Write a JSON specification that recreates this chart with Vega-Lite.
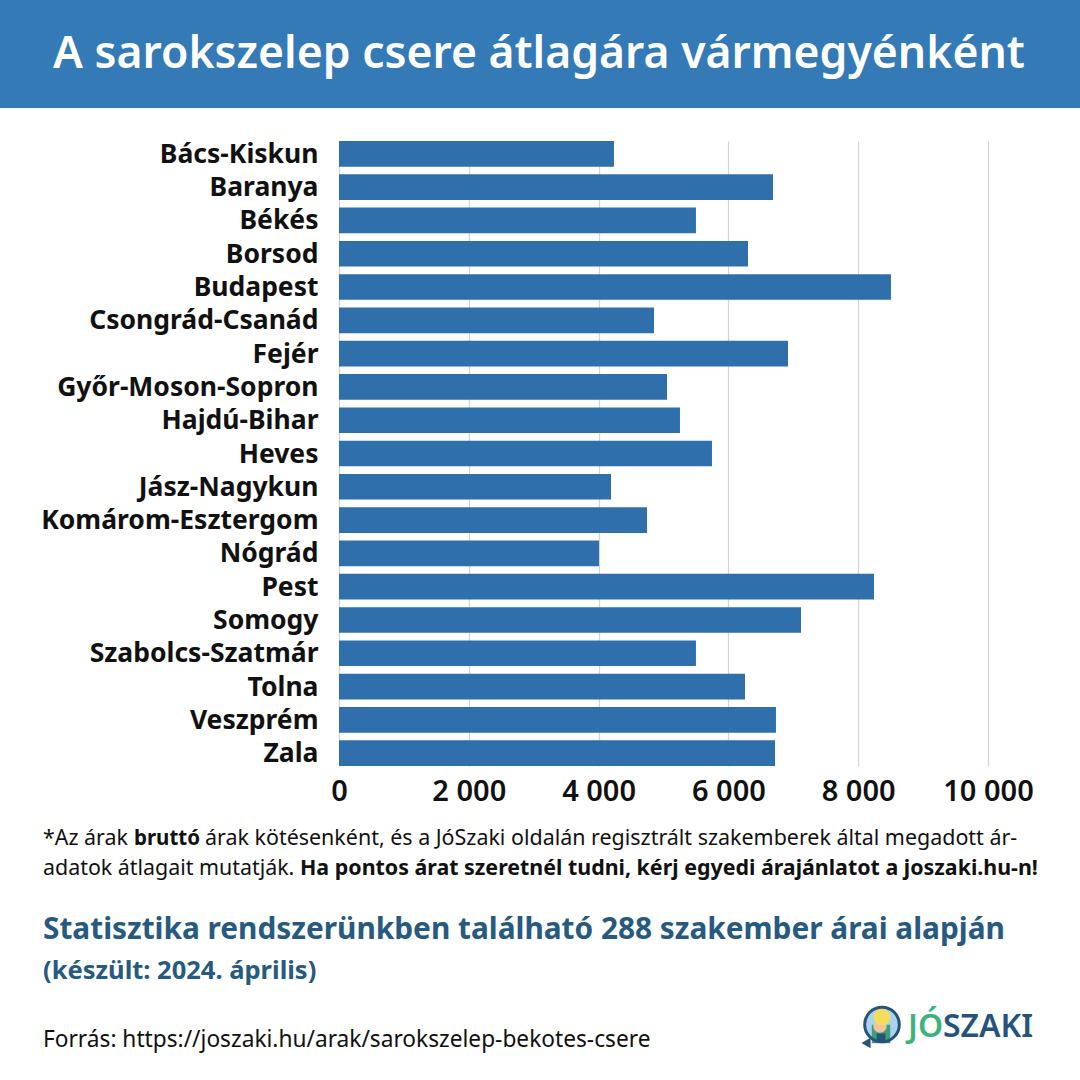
{
"$schema":"https://vega.github.io/schema/vega-lite/v6.json",
"width":649,"height":625,"autosize":"none",
"padding":{"left":339,"top":141,"right":92,"bottom":314},
"background":"#ffffff",
"config":{"view":{"stroke":null},"text":{"font":"Noto Sans","align":"left","baseline":"middle","color":"#111111"}},
"resolve":{"scale":{"x":"independent","y":"independent"}},
"layer":[
{"data":{"values":[
{"megye":"Bács-Kiskun","ar":4237},{"megye":"Baranya","ar":6687},{"megye":"Békés","ar":5500},{"megye":"Borsod","ar":6302},{"megye":"Budapest","ar":8505},{"megye":"Csongrád-Csanád","ar":4854},{"megye":"Fejér","ar":6918},{"megye":"Győr-Moson-Sopron","ar":5054},{"megye":"Hajdú-Bihar","ar":5254},{"megye":"Heves","ar":5747},{"megye":"Jász-Nagykun","ar":4191},{"megye":"Komárom-Esztergom","ar":4746},{"megye":"Nógrád","ar":4006},{"megye":"Pest","ar":8243},{"megye":"Somogy","ar":7119},{"megye":"Szabolcs-Szatmár","ar":5500},{"megye":"Tolna","ar":6256},{"megye":"Veszprém","ar":6733},{"megye":"Zala","ar":6718}]},
"mark":{"type":"bar","color":"#2f70ac","clip":false},
"encoding":{
"y":{"field":"megye","type":"nominal","sort":null,"title":null,"scale":{"paddingInner":0.23,"paddingOuter":0},
"axis":{"domain":false,"ticks":false,"labelPadding":21,"labelOffset":1,"labelFont":"Noto Sans","labelFontSize":26.5,"labelFontWeight":700,"labelColor":"#111111","labelLimit":400}},
"x":{"field":"ar","type":"quantitative","title":null,"scale":{"domain":[0,10000],"nice":false},
"axis":{"values":[0,2000,4000,6000,8000,10000],"domain":false,"ticks":false,"labelPadding":11,"labelFont":"Noto Sans","labelFontSize":29,"labelFontWeight":600,"labelColor":"#111111","labelFlush":false,"labelExpr":"replace(format(datum.value,','),',',' ')","grid":true,"gridColor":"#d4d4d4","gridWidth":1.2}}
}},
{"layer":[
{"data":{"values":[{"n":"banner"}]},"mark":{"type":"rect","color":"#337ab7"},
 "encoding":{"x":{"datum":0,"type":"quantitative","axis":null,"scale":{"domain":[339,988],"nice":false,"zero":false}},"x2":{"datum":1080},"y":{"datum":0,"type":"quantitative","axis":null,"scale":{"domain":[141,766],"nice":false,"zero":false,"reverse":true}},"y2":{"datum":108}}},
{"data":{"values":[{"t":"A sarokszelep csere átlagára vármegyénként"}]},"mark":{"type":"text","align":"center","fontSize":44.5,"fontWeight":600,"color":"#ffffff"},
 "encoding":{"text":{"field":"t"},"x":{"datum":539,"type":"quantitative"},"y":{"datum":55,"type":"quantitative"}}},
{"data":{"values":[{"t":"*Az árak"}]},"mark":{"type":"text","fontSize":21.4},"encoding":{"text":{"field":"t"},"x":{"datum":43,"type":"quantitative"},"y":{"datum":839,"type":"quantitative"}}},
{"data":{"values":[{"t":"bruttó"}]},"mark":{"type":"text","fontSize":20.5,"fontWeight":700},"encoding":{"text":{"field":"t"},"x":{"datum":134,"type":"quantitative"},"y":{"datum":839,"type":"quantitative"}}},
{"data":{"values":[{"t":"árak kötésenként, és a JóSzaki oldalán regisztrált szakemberek által megadott ár-"}]},"mark":{"type":"text","fontSize":21.45},"encoding":{"text":{"field":"t"},"x":{"datum":205,"type":"quantitative"},"y":{"datum":839,"type":"quantitative"}}},
{"data":{"values":[{"t":"adatok átlagait mutatják."}]},"mark":{"type":"text","fontSize":21.4},"encoding":{"text":{"field":"t"},"x":{"datum":43,"type":"quantitative"},"y":{"datum":869,"type":"quantitative"}}},
{"data":{"values":[{"t":"Ha pontos árat szeretnél tudni, kérj egyedi árajánlatot a joszaki.hu-n!"}]},"mark":{"type":"text","fontSize":21.4,"fontWeight":700},"encoding":{"text":{"field":"t"},"x":{"datum":300,"type":"quantitative"},"y":{"datum":869,"type":"quantitative"}}},
{"data":{"values":[{"t":"Statisztika rendszerünkben található 288 szakember árai alapján"}]},"mark":{"type":"text","fontSize":29.8,"fontWeight":700,"color":"#265a80"},"encoding":{"text":{"field":"t"},"x":{"datum":43,"type":"quantitative"},"y":{"datum":930,"type":"quantitative"}}},
{"data":{"values":[{"t":"(készült: 2024. április)"}]},"mark":{"type":"text","fontSize":25.5,"fontWeight":700,"color":"#265a80"},"encoding":{"text":{"field":"t"},"x":{"datum":43,"type":"quantitative"},"y":{"datum":971,"type":"quantitative"}}},
{"data":{"values":[{"t":"Forrás: https://joszaki.hu/arak/sarokszelep-bekotes-csere"}]},"mark":{"type":"text","fontSize":22.7},"encoding":{"text":{"field":"t"},"x":{"datum":43,"type":"quantitative"},"y":{"datum":1040,"type":"quantitative"}}},
{"data":{"values":[{"t":"JÓ"}]},"mark":{"type":"text","fontSize":32,"fontWeight":600,"color":"#3cb27d"},"encoding":{"text":{"field":"t"},"x":{"datum":908,"type":"quantitative"},"y":{"datum":1027,"type":"quantitative"}}},
{"data":{"values":[{"t":"SZAKI"}]},"mark":{"type":"text","fontSize":32,"fontWeight":600,"color":"#26537a"},"encoding":{"text":{"field":"t"},"x":{"datum":943,"type":"quantitative"},"y":{"datum":1027,"type":"quantitative"}}},
{"data":{"values":[{"n":"tail"}]},"mark":{"type":"point","shape":"triangle-left","filled":true,"size":110,"color":"#26537a","opacity":1},"encoding":{"x":{"datum":866,"type":"quantitative"},"y":{"datum":1043,"type":"quantitative"}}},
{"data":{"values":[{"n":"icon"}]},"mark":{"type":"point","shape":"circle","filled":true,"size":1200,"fill":"#a9d3ee","opacity":1},"encoding":{"x":{"datum":882,"type":"quantitative"},"y":{"datum":1024.5,"type":"quantitative"}}},
{"data":{"values":[{"n":"body"}]},"mark":{"type":"point","shape":"square","filled":true,"size":340,"color":"#3f9e78","opacity":1},"encoding":{"x":{"datum":881,"type":"quantitative"},"y":{"datum":1034,"type":"quantitative"}}},
{"data":{"values":[{"n":"overalls"}]},"mark":{"type":"point","shape":"square","filled":true,"size":80,"color":"#26537a","opacity":1},"encoding":{"x":{"datum":881,"type":"quantitative"},"y":{"datum":1038,"type":"quantitative"}}},
{"data":{"values":[{"n":"face"}]},"mark":{"type":"point","shape":"circle","filled":true,"size":180,"color":"#f2c49b","opacity":1},"encoding":{"x":{"datum":880,"type":"quantitative"},"y":{"datum":1026,"type":"quantitative"}}},
{"data":{"values":[{"n":"helmet"}]},"mark":{"type":"point","shape":"circle","filled":true,"size":280,"color":"#f5dc5a","opacity":1},"encoding":{"x":{"datum":882,"type":"quantitative"},"y":{"datum":1017,"type":"quantitative"}}},
{"data":{"values":[{"n":"ring"}]},"mark":{"type":"point","shape":"circle","filled":false,"size":1200,"stroke":"#26537a","strokeWidth":3,"opacity":1},"encoding":{"x":{"datum":882,"type":"quantitative"},"y":{"datum":1024.5,"type":"quantitative"}}}
]}
]
}
